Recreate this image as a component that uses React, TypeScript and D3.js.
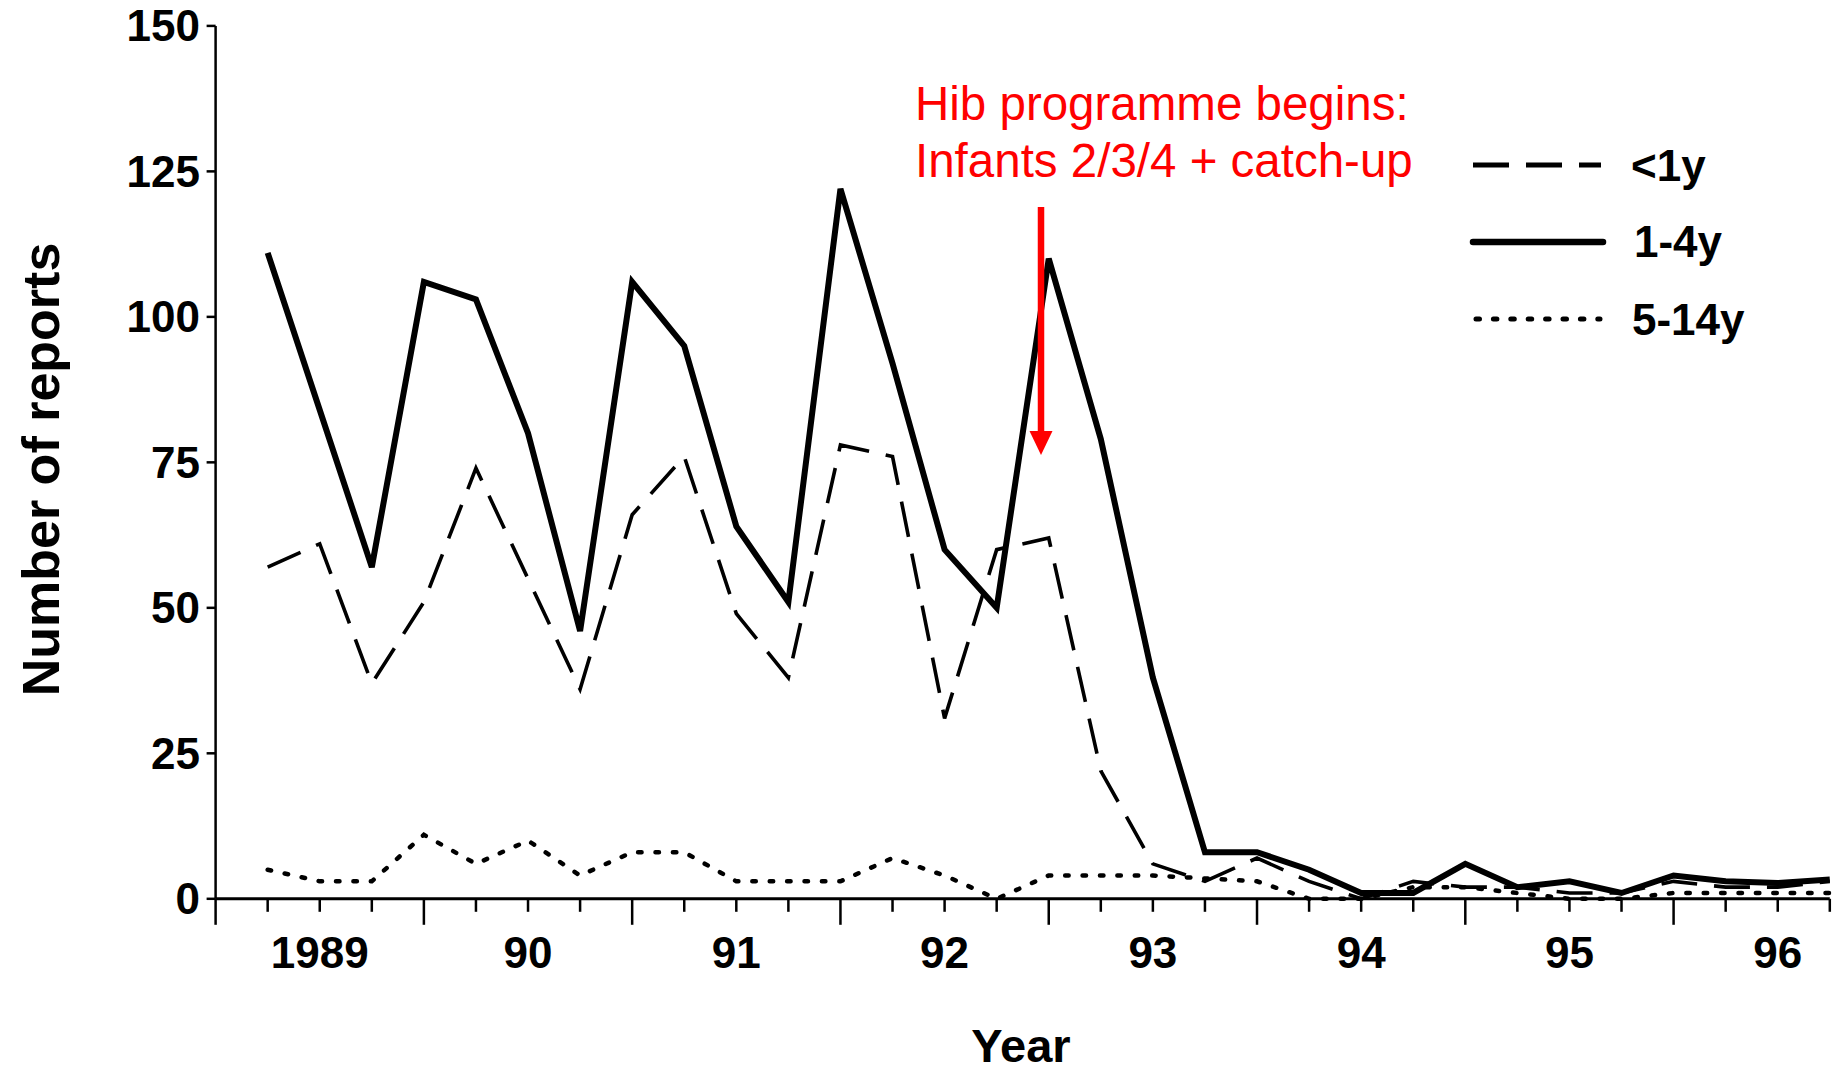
import React from "react";
import * as d3 from "d3";

// ---- data (quarterly reports, 1989 Q1 .. 1996 Q3) ----
const quarters = [1, 2, 3, 4, 5, 6, 7, 8, 9, 10, 11, 12, 13, 14, 15, 16, 17, 18, 19, 20, 21, 22, 23, 24, 25, 26, 27, 28, 29, 30, 31];
const under1 = [57, 61, 37, 51, 74, 55, 36, 66, 76, 49, 38, 78, 76, 31, 60, 62, 22, 6, 3, 7, 3, 0, 3, 2, 2, 1, 1, 3, 2, 2, 3];
const age1to4 = [111, 84, 57, 106, 103, 80, 46, 106, 95, 64, 51, 122, 92, 60, 50, 110, 79, 38, 8, 8, 5, 1, 1, 6, 2, 3, 1, 4, 3, 2.7, 3.3];
const age5to14 = [5, 3, 3, 11, 6, 10, 4, 8, 8, 3, 3, 3, 7, 4, 0, 4, 4, 4, 3.5, 3, 0, 0, 2, 2, 1, 0, 0, 1, 1, 1, 1];
const yTicks = [0, 25, 50, 75, 100, 125, 150];
const yearLabels = ["1989", "90", "91", "92", "93", "94", "95", "96"];
const yearLabelQuarters = [2, 6, 10, 14, 18, 22, 26, 30];
const tickQuarters = [0, 1, 2, 3, 4, 5, 6, 7, 8, 9, 10, 11, 12, 13, 14, 15, 16, 17, 18, 19, 20, 21, 22, 23, 24, 25, 26, 27, 28, 29, 30, 31];
const seriesNames = ["<1y", "1-4y", "5-14y"];
const annotationLines = ["Hib programme begins:", "Infants 2/3/4 + catch-up"];

const W = 1847;
const H = 1071;
const FONT = "'Liberation Sans', Arial, Helvetica, sans-serif";

export default function App() {
  const x = d3.scaleLinear().domain([0, 31]).range([215.6, 1829.8]);
  const y = d3.scaleLinear().domain([0, 150]).range([898.8, 25.9]);

  const mk = (vals: number[]) =>
    d3
      .line<number>()
      .x((_, i) => x(quarters[i]))
      .y((v) => y(v))(vals) as string;

  const dashed = { stroke: "#000", strokeWidth: 3.6, fill: "none", strokeDasharray: "36 17" };
  const solid = { stroke: "#000", strokeWidth: 6, fill: "none" };
  const dotted = { stroke: "#000", strokeWidth: 4.5, fill: "none", strokeDasharray: "3.5 13.9", strokeLinecap: "round" as const };

  const arrowX = 1041;
  const arrowTop = 207;
  const arrowTip = 455;

  return (
    <svg
      width={W}
      height={H}
      style={{ position: "absolute", left: 0, top: 0, background: "#fff" }}
      xmlns="http://www.w3.org/2000/svg"
    >
      <rect x={0} y={0} width={W} height={H} fill="#fff" />
      {/* y axis */}
      <line x1={x(0)} x2={x(0)} y1={y(150)} y2={y(0)} stroke="#000" strokeWidth={2.5} />
      {yTicks.map((t) => (
        <g key={t}>
          <line x1={x(0) - 9} x2={x(0)} y1={y(t)} y2={y(t)} stroke="#000" strokeWidth={2.5} />
          <text
            x={200}
            y={y(t) + 15.5}
            textAnchor="end"
            fontFamily={FONT}
            fontWeight="bold"
            fontSize={44}
          >
            {t}
          </text>
        </g>
      ))}
      {/* x axis */}
      <line x1={x(0)} x2={x(31)} y1={y(0)} y2={y(0)} stroke="#000" strokeWidth={3} />
      {tickQuarters.map((q) => (
        <line
          key={q}
          x1={x(q)}
          x2={x(q)}
          y1={y(0)}
          y2={y(0) + (q % 4 === 0 ? 26 : 13)}
          stroke="#000"
          strokeWidth={2.5}
        />
      ))}
      {yearLabels.map((lab, i) => (
        <text
          key={lab}
          x={x(yearLabelQuarters[i])}
          y={968}
          textAnchor="middle"
          fontFamily={FONT}
          fontWeight="bold"
          fontSize={44}
        >
          {lab}
        </text>
      ))}
      <text x={1021} y={1062} textAnchor="middle" fontFamily={FONT} fontWeight="bold" fontSize={47}>
        Year
      </text>
      <text
        transform={`translate(59,469.5) rotate(-90)`}
        textAnchor="middle"
        fontFamily={FONT}
        fontWeight="bold"
        fontSize={52}
      >
        Number of reports
      </text>

      {/* series */}
      <path d={mk(age5to14)} {...dotted} />
      <path d={mk(under1)} {...dashed} />
      <path d={mk(age1to4)} {...solid} strokeLinejoin="miter" />

      {/* legend */}
      <line x1={1473} x2={1601} y1={165} y2={165} {...dashed} strokeWidth={5} />
      <line x1={1473} x2={1603} y1={242} y2={242} {...solid} strokeWidth={6.5} strokeLinecap="round" />
      <line x1={1476} x2={1600} y1={319} y2={319} {...dotted} strokeWidth={5} />
      {seriesNames.map((s, i) => (
        <text
          key={s}
          x={[1631, 1634, 1632][i]}
          y={[181, 257, 335][i]}
          fontFamily={FONT}
          fontWeight="bold"
          fontSize={44}
        >
          {s}
        </text>
      ))}

      {/* annotation */}
      {annotationLines.map((l, i) => (
        <text key={l} x={915} y={120 + i * 57} fill="#ff0000" fontFamily={FONT} fontSize={47.5}>
          {l}
        </text>
      ))}
      <line x1={arrowX} x2={arrowX} y1={arrowTop} y2={arrowTip - 20} stroke="#ff0000" strokeWidth={6.5} />
      <path
        d={`M${arrowX - 11.5},${arrowTip - 24} L${arrowX + 11.5},${arrowTip - 24} L${arrowX},${arrowTip} Z`}
        fill="#ff0000"
      />
    </svg>
  );
}
